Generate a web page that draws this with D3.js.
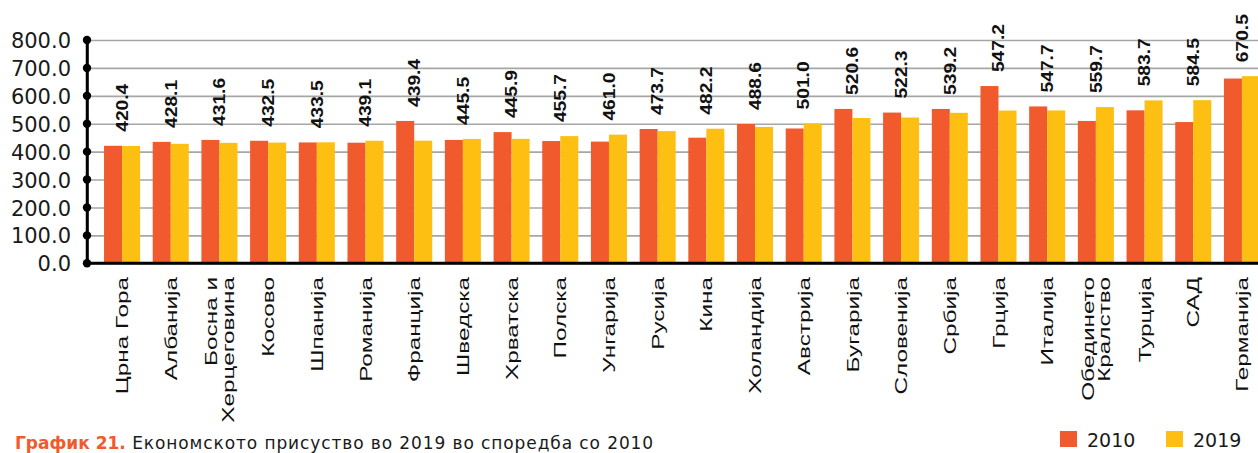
<!DOCTYPE html>
<html>
<head>
<meta charset="utf-8">
<script src="https://cdn.jsdelivr.net/npm/d3@7"></script>
<style>
  body { margin: 0; background: #fff; }
  svg { display: block; }
  .axis .domain { stroke: #000; stroke-width: 2.5; }
  .axis .tick line { stroke: #a6a6a6; stroke-width: 1.6; }
  .axis .tick text { font-family: 'DejaVu Sans', sans-serif; font-size: 21px; fill: #1a1a1a; }
  .catLabel { font-family: 'Liberation Sans', Arial, sans-serif; font-size: 17px; fill: #111; }
  .valLabel { font-family: 'Liberation Sans', Arial, sans-serif; font-size: 16px; font-weight: bold; fill: #111; }
  .legendText { font-family: 'DejaVu Sans', sans-serif; font-size: 19px; fill: #1a1a1a; }
  .title { font-family: 'DejaVu Sans', sans-serif; font-size: 17px; fill: #1a1a1a; }
</style>
</head>
<body>
<div id="canvas"></div>
<script>
var W = 1258, H = 453;

// data
var countries = ['Црна Гора', 'Албанија', 'Босна и\nХерцеговина', 'Косово', 'Шпанија', 'Романија',
  'Франција', 'Шведска', 'Хрватска', 'Полска', 'Унгарија', 'Русија', 'Кина', 'Холандија',
  'Австрија', 'Бугарија', 'Словенија', 'Србија', 'Грција', 'Италија', 'Обединето\nКралство',
  'Турција', 'САД', 'Германија'];
var values2010 = [421, 435, 442, 439, 433, 432, 510, 442, 470, 438, 436, 481, 450, 499,
  483, 553, 540, 553, 635, 562, 510, 548, 506, 662];
var values2019 = [420.4, 428.1, 431.6, 432.5, 433.5, 439.1, 439.4, 445.5, 445.9, 455.7, 461.0, 473.7,
  482.2, 488.6, 501.0, 520.6, 522.3, 539.2, 547.2, 547.7, 559.7, 583.7, 584.5, 670.5];
var series = ['2010', '2019'];
var yTicks = [0, 100, 200, 300, 400, 500, 600, 700, 800];

var colors = {'2010': '#f05a2c', '2019': '#fdc012'};
var axisX = 87, yTop = 40, yBottom = 263.3;

var svg = d3.select('#canvas')
  .append('svg')
  .attr('width', W)
  .attr('height', H);

var rows = countries.map(function(c, i) {
  return {name: c, '2010': values2010[i], '2019': values2019[i]};
});

// scales
var x = d3.scaleBand()
  .domain(countries)
  .range([axisX, 1277])
  .paddingInner(0.26)
  .paddingOuter(0.35);

var xSub = d3.scaleBand()
  .domain(series)
  .range([0, x.bandwidth()]);

var y = d3.scaleLinear()
  .domain([0, 800])
  .range([yBottom, yTop]);

// axis + grid
var axisY = d3.axisLeft(y)
  .tickValues(yTicks)
  .tickFormat(d3.format('.1f'))
  .tickSizeInner(-(W - axisX))
  .tickSizeOuter(0)
  .tickPadding(16);

var gAxis = svg.append('g')
  .attr('class', 'axis')
  .attr('transform', 'translate(' + axisX + ',0)')
  .call(axisY);
gAxis.selectAll('.tick text').attr('dy', '0.36em');

// bars
var groups = svg.append('g').selectAll('g')
  .data(rows)
  .enter().append('g')
  .attr('transform', function(d) { return 'translate(' + x(d.name) + ',0)'; });

groups.selectAll('rect')
  .data(function(d) { return series.map(function(s) { return {key: s, value: d[s]}; }); })
  .enter().append('rect')
  .attr('x', function(d) { return xSub(d.key); })
  .attr('y', function(d) { return y(d.value); })
  .attr('width', xSub.bandwidth())
  .attr('height', function(d) { return y(0) - y(d.value); })
  .attr('fill', function(d) { return colors[d.key]; });

// baseline
svg.append('line')
  .attr('x1', axisX).attr('x2', W)
  .attr('y1', y(0)).attr('y2', y(0))
  .attr('stroke', '#000')
  .attr('stroke-width', 3);

svg.append('line')
  .attr('x1', axisX).attr('x2', axisX)
  .attr('y1', y(800)).attr('y2', y(0))
  .attr('stroke', '#000')
  .attr('stroke-width', 2.5);

// dots on the axis
svg.append('g').selectAll('circle')
  .data(yTicks)
  .enter().append('circle')
  .attr('cx', axisX)
  .attr('cy', function(d) { return y(d); })
  .attr('r', 4.2)
  .attr('fill', '#000');

// value labels (2019)
svg.append('g').selectAll('text')
  .data(rows)
  .enter().append('text')
  .attr('class', 'valLabel')
  .attr('transform', function(d) {
    var cx = x(d.name) + x.bandwidth() / 2;
    var top = y(Math.max(d['2010'], d['2019'])) - 14;
    return 'translate(' + cx + ',' + top + ') rotate(-90) scale(1.2,1)';
  })
  .attr('dy', '0.36em')
  .text(function(d) { return d3.format('.1f')(d['2019']); });

// category labels
var cat = svg.append('g').selectAll('text')
  .data(rows)
  .enter().append('text')
  .attr('class', 'catLabel')
  .attr('text-anchor', 'end')
  .attr('transform', function(d) {
    var cx = x(d.name) + x.bandwidth() / 2;
    return 'translate(' + cx + ',277) rotate(-90) scale(1.43,1)';
  });

cat.each(function(d) {
  var lines = d.name.split('\n');
  var t = d3.select(this);
  lines.forEach(function(l, i) {
    t.append('tspan')
      .attr('x', 0)
      .attr('dy', i === 0 ? (0.36 * 17 - (lines.length - 1) * 8.5) + 'px' : '17px')
      .text(l);
  });
});

// title
var title = svg.append('text')
  .attr('class', 'title')
  .attr('x', 15)
  .attr('y', 449);
title.append('tspan')
  .attr('font-weight', 'bold')
  .attr('fill', '#f05a2c')
  .text('График 21.');
title.append('tspan')
  .attr('letter-spacing', '0.9px')
  .text(' Економското присуство во 2019 во споредба со 2010');

// legend
var legend = svg.append('g').selectAll('g')
  .data(series)
  .enter().append('g')
  .attr('transform', function(d, i) { return 'translate(' + (1060 + i * 106) + ',431)'; });

legend.append('rect')
  .attr('width', 17)
  .attr('height', 16)
  .attr('fill', function(d) { return colors[d]; });

legend.append('text')
  .attr('class', 'legendText')
  .attr('x', 27)
  .attr('y', 16)
  .text(function(d) { return d; });
</script>
</body>
</html>
